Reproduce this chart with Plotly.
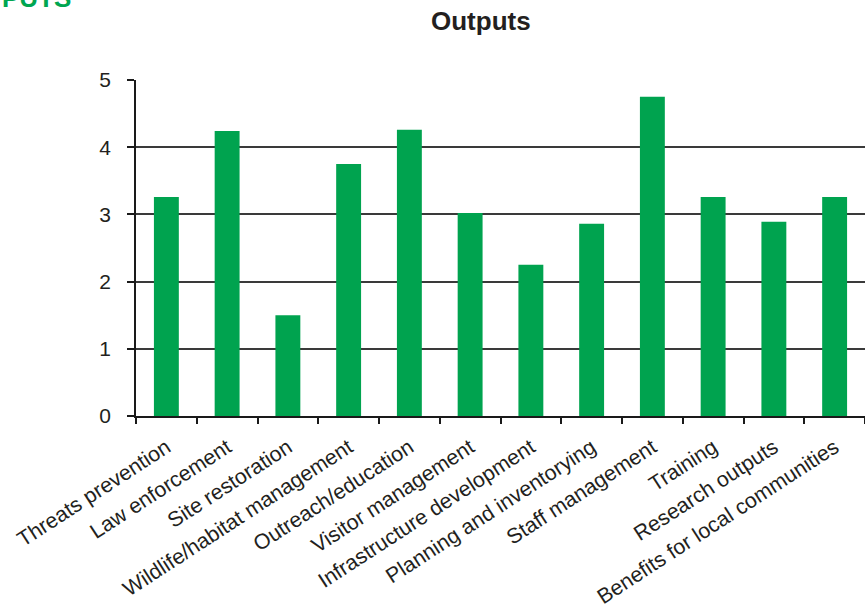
import plotly.graph_objects as go

categories = ["Threats prevention", "Law enforcement", "Site restoration",
              "Wildlife/habitat management", "Outreach/education", "Visitor management",
              "Infrastructure development", "Planning and inventorying", "Staff management",
              "Training", "Research outputs", "Benefits for local communities"]
values = [3.26, 4.24, 1.50, 3.75, 4.26, 3.02, 2.25, 2.86, 4.75, 3.26, 2.89, 3.26]
y_ticks = [0, 1, 2, 3, 4, 5]

W, H = 865, 610
L, R, T, B = 136, 0, 80, 194
pw, ph = W - L - R, H - T - B

def px_x(x):
    return (x - L) / pw

def px_y(y):
    return (H - B - y) / ph

FONT = "Liberation Sans, Arial, sans-serif"
TXT = "#231f20"

fig = go.Figure(go.Bar(x=categories, y=values, marker_color="#00A34F",
                       marker_line_width=0))

fig.update_layout(
    width=W, height=H,
    margin=dict(l=L, r=R, t=T, b=B, pad=0, autoexpand=False),
    paper_bgcolor="white", plot_bgcolor="white",
    bargap=0.59, showlegend=False,
    font=dict(family=FONT, color=TXT, size=20),
)
fig.update_xaxes(
    range=[-0.5, len(categories) - 0.5],
    showline=True, linecolor="#1a1a1a", linewidth=1.5,
    ticks="outside", ticklen=6, tickwidth=1.5, tickcolor="#1a1a1a",
    tickson="boundaries", tickangle=-33, showgrid=False,
    ticklabelstandoff=9, automargin=False,
    tickfont=dict(family=FONT, size=21.3, color=TXT),
)
fig.update_yaxes(
    range=[0, 5], tickvals=y_ticks,
    showline=True, linecolor="#1a1a1a", linewidth=1.5,
    ticks="outside", ticklen=7, tickwidth=1.5, tickcolor="#1a1a1a",
    showgrid=True, gridcolor="#3a3a3a", gridwidth=1.5, zeroline=False,
    ticklabelstandoff=12, automargin=False,
    tickfont=dict(family=FONT, size=21, color=TXT),
)

fig.add_annotation(text="<b>Outputs</b>", xref="paper", yref="paper",
                   x=px_x(481), y=px_y(21), xanchor="center", yanchor="middle",
                   showarrow=False, font=dict(family=FONT, size=26, color=TXT))
fig.add_annotation(text="<b>OUTPUTS</b>", xref="paper", yref="paper",
                   x=px_x(73), y=px_y(-2), xanchor="right", yanchor="middle",
                   showarrow=False, font=dict(family=FONT, size=26, color="#00A651"))

fig.write_html("out.html", config={"displayModeBar": False},
               post_script="document.body.style.margin='0';document.body.style.overflow='hidden';")
